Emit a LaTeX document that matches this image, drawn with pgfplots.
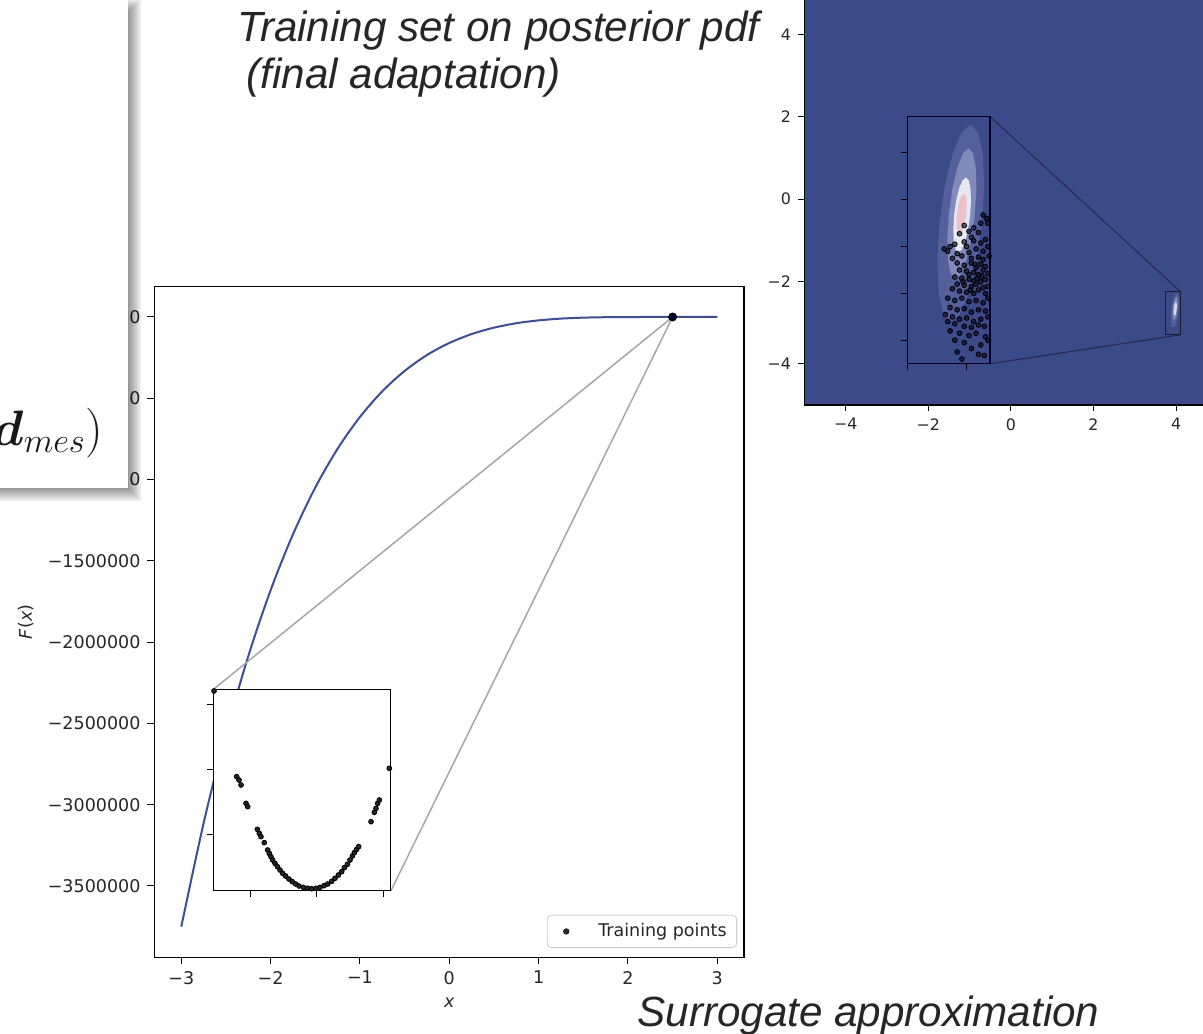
\documentclass[border=0pt]{standalone}
\usepackage{fontspec}
\setmainfont{DejaVu Sans}[ItalicFont={DejaVu Sans Oblique},BoldFont={DejaVu Sans Bold}]
\newfontfamily\arialfont{Liberation Sans}
\usepackage{bm}
\usepackage{pgfplots}
\usepackage{pgfplotstable}
\pgfplotsset{compat=1.18}
\definecolor{heatblue}{HTML}{3D4A89}
\definecolor{curveblue}{HTML}{3F4F93}
\definecolor{lblgray}{HTML}{262626}
\definecolor{hazeA}{HTML}{9AA5D5}
\definecolor{hazeB}{HTML}{C4CCEC}
\definecolor{pinkcore}{HTML}{F0B5BC}

\pgfplotstableread{
x y
4.065 -2.70
4.0743 -2.5393
4.0683 -2.403
4.0482 -2.312
4.017 -2.28
3.9794 -2.312
3.9411 -2.403
3.9079 -2.5393
3.885 -2.70
3.8757 -2.8607
3.8817 -2.997
3.9018 -3.088
3.933 -3.12
3.9706 -3.088
4.0089 -2.997
4.0421 -2.8607
4.065 -2.70
}\blobA
\pgfplotstableread{
x y
4.035 -2.66
4.0415 -2.5528
4.0387 -2.462
4.0269 -2.4013
4.008 -2.38
3.9849 -2.4013
3.9609 -2.462
3.9399 -2.5528
3.925 -2.66
3.9185 -2.7672
3.9213 -2.858
3.9331 -2.9187
3.952 -2.94
3.9751 -2.9187
3.9991 -2.858
4.0201 -2.7672
4.035 -2.66
}\blobB
\pgfplotstableread{
x y
4.015 -2.665
4.0185 -2.6038
4.0163 -2.5519
4.0088 -2.5172
3.997 -2.505
3.9828 -2.5172
3.9683 -2.5519
3.9557 -2.6038
3.947 -2.665
3.9435 -2.7262
3.9457 -2.7781
3.9532 -2.8128
3.965 -2.825
3.9792 -2.8128
3.9937 -2.7781
4.0063 -2.7262
4.015 -2.665
}\blobC
\pgfplotstableread{
x y
3.999 -2.66
4.0008 -2.6275
3.9991 -2.5999
3.9946 -2.5815
3.9875 -2.575
3.9792 -2.5815
3.9709 -2.5999
3.9638 -2.6275
3.959 -2.66
3.9572 -2.6925
3.9589 -2.7201
3.9634 -2.7385
3.9705 -2.745
3.9788 -2.7385
3.9871 -2.7201
3.9942 -2.6925
3.999 -2.66
}\blobD
\pgfplotstableread{
x y
4.07 -2.665
4.085 -2.68
4.06 -2.70
4.03 -2.72
3.99 -2.71
4.01 -2.735
4.05 -2.74
4.09 -2.70
3.97 -2.745
4.02 -2.76
3.93 -2.80
3.92 -2.82
3.905 -2.81
3.95 -2.79
3.99 -2.78
4.03 -2.775
4.06 -2.785
4.08 -2.77
4.00 -2.80
4.04 -2.81
4.07 -2.82
3.96 -2.83
3.98 -2.84
4.01 -2.825
4.05 -2.845
4.09 -2.80
3.94 -2.85
4.02 -2.85
4.07 -2.855
4.095 -2.84
3.96 -2.87
3.99 -2.88
4.02 -2.87
4.04 -2.89
4.06 -2.875
4.08 -2.885
3.97 -2.90
4.00 -2.905
4.03 -2.91
4.05 -2.92
4.07 -2.90
4.09 -2.915
3.95 -2.93
3.98 -2.935
4.01 -2.94
4.03 -2.945
4.06 -2.95
4.08 -2.94
3.96 -2.96
3.99 -2.965
4.02 -2.97
4.04 -2.96
4.07 -2.975
4.09 -2.97
3.94 -2.98
3.97 -2.99
4.00 -2.995
4.03 -3.00
4.05 -2.985
4.08 -3.00
4.01 -2.92
3.985 -2.95
4.015 -2.985
4.045 -2.935
4.065 -2.925
4.035 -2.875
3.92 -3.02
3.95 -3.03
3.98 -3.02
4.01 -3.035
4.04 -3.03
4.07 -3.04
4.09 -3.02
3.93 -3.06
3.96 -3.07
3.99 -3.065
4.02 -3.08
4.05 -3.07
4.08 -3.075
3.91 -3.09
3.94 -3.10
3.97 -3.11
4.00 -3.105
4.03 -3.12
4.06 -3.11
4.09 -3.10
3.95 -3.13
3.99 -3.14
4.02 -3.145
4.05 -3.135
3.92 -3.12
4.075 -3.14
3.93 -3.16
3.97 -3.17
4.01 -3.18
4.04 -3.17
4.08 -3.185
3.95 -3.20
3.99 -3.21
4.06 -3.22
4.09 -3.20
4.02 -3.235
3.96 -3.25
4.05 -3.26
4.075 -3.265
3.98 -3.28
}\trainpts
\pgfplotstableread{
x y
-1.2035 0.889
-1.168 0.837
-1.138 0.760
-1.063 0.475
-1.038 0.424
-0.893 0.072
-0.863 0.010
-0.838 -0.041
-0.788 -0.134
-0.738 -0.248
-0.713 -0.300
-0.688 -0.351
-0.663 -0.403
-0.627 -0.455
-0.592 -0.506
-0.552 -0.558
-0.512 -0.610
-0.467 -0.651
-0.417 -0.698
-0.367 -0.739
-0.316 -0.775
-0.266 -0.806
-0.201 -0.827
-0.136 -0.842
-0.076 -0.848
-0.011 -0.842
0.050 -0.827
0.110 -0.801
0.165 -0.775
0.225 -0.734
0.275 -0.687
0.326 -0.636
0.376 -0.584
0.416 -0.522
0.461 -0.470
0.501 -0.403
0.536 -0.341
0.566 -0.289
0.601 -0.238
0.631 -0.196
0.817 0.191
0.867 0.336
0.892 0.398
0.917 0.475
0.942 0.527
1.092 1.018
-1.544 2.217
}\insetpts

\begin{document}
\begin{tikzpicture}
\fill[white] (0pt,0pt) rectangle (601.5pt,-516.5pt);

% ---------- heat map (posterior pdf) ----------
\begin{axis}[at={(402.2pt,-202.45pt)}, anchor=south west, scale only axis,
  width=206.45pt, height=205.9pt,
  xmin=-5, xmax=5, ymin=-5, ymax=5,
  axis background/.style={fill=heatblue},
  xtick={-4,-2,0,2,4}, xticklabels={−4,−2,0,2,4},
  ytick={-4,-2,0,2,4}, yticklabels={−4,−2,0,2,4},
  tick align=outside, xtick pos=left, ytick pos=left,
  major tick length=3.2pt, tick style={black, line width=0.5pt},
  axis line style={line width=0.6pt},
  ticklabel style={font=\fontsize{7.9}{9}\selectfont, text=lblgray}]
  \addplot[draw=none, fill=hazeA, fill opacity=0.25] table {\blobA};
  \addplot[draw=none, fill=hazeB, fill opacity=0.4] table {\blobB};
  \addplot[draw=none, fill=white, fill opacity=0.8] table {\blobC};
  \addplot[draw=none, fill=pinkcore, fill opacity=0.75] table {\blobD};
  \addplot[draw=black, draw opacity=0.6, line width=0.5pt] coordinates {(3.75,-3.30) (4.10,-3.30) (4.10,-2.245) (3.75,-2.245) (3.75,-3.30)};
  \addplot[draw=black, draw opacity=0.45, line width=0.5pt] coordinates {(-0.5,2) (4.10,-2.245)};
  \addplot[draw=black, draw opacity=0.45, line width=0.5pt] coordinates {(-0.5,-4) (4.10,-3.30)};
\end{axis}

\begin{axis}[at={(453.8pt,-181.85pt)}, anchor=south west, scale only axis,
  width=41.3pt, height=123.55pt,
  xmin=3.75, xmax=4.10, ymin=-3.30, ymax=-2.245,
  axis background/.style={fill=heatblue},
  xtick={3.75,4.0}, xticklabels={},
  ytick={-3.2,-3.0,-2.8,-2.6,-2.4}, yticklabels={},
  tick align=outside, xtick pos=left, ytick pos=left,
  major tick length=3.1pt, tick style={black, line width=0.5pt},
  axis line style={line width=0.75pt, draw=black!85!blue}]
  \addplot[draw=none, fill=hazeA, fill opacity=0.25] table {\blobA};
  \addplot[draw=none, fill=hazeB, fill opacity=0.4] table {\blobB};
  \addplot[draw=none, fill=white, fill opacity=0.8] table {\blobC};
  \addplot[draw=none, fill=pinkcore, fill opacity=0.75] table {\blobD};
  \addplot[only marks, mark=*, mark size=1.2pt, mark options={draw=none, fill=black!90!blue, fill opacity=0.6}] table {\trainpts};
\end{axis}

% ---------- surrogate F(x) ----------
\begin{axis}[at={(77.25pt,-478.55pt)}, anchor=south west, scale only axis,
  width=294.8pt, height=335.3pt,
  xmin=-3.3, xmax=3.3, ymin=-3937500, ymax=187500,
  scaled y ticks=false,
  xtick={-3,-2,-1,0,1,2,3}, xticklabels={−3,−2,−1,0,1,2,3},
  ytick={-3500000,-3000000,-2500000,-2000000,-1500000,-1000000,-500000,0},
  yticklabels={−3500000,−3000000,−2500000,−2000000,−1500000,−1000000,−500000,0},
  tick align=outside, xtick pos=left, ytick pos=left,
  major tick length=3.5pt, tick style={black, line width=0.5pt},
  axis line style={line width=0.6pt},
  ticklabel style={font=\fontsize{8.75}{10}\selectfont, text=lblgray},
  xlabel={\textit{x}}, ylabel={\textit{F}(\textit{x})},
  label style={font=\fontsize{8.75}{10}\selectfont, text=lblgray},
  legend style={at={(0.988,0.0136)}, anchor=south east, draw=black!20, rounded corners=2pt,
    fill=white, font=\fontsize{8.75}{10}\selectfont, text=lblgray, inner xsep=3pt, inner ysep=2pt},
  legend image code/.code={\path[draw=none, fill=none] (0pt,-1pt) rectangle (20.5pt,1pt); \fill[lblgray, draw=none] (6.5pt,0pt) circle (1.6pt);}]
  \addplot[curveblue, line width=1pt, smooth, forget plot] coordinates {
    (-3,-3750000) (-2.75,-3113000) (-2.5,-2561000) (-2.25,-2086000) (-2,-1680000)
    (-1.75,-1337000) (-1.5,-1049000) (-1.25,-810000) (-1,-615000) (-0.75,-457000)
    (-0.5,-332000) (-0.25,-234000) (0,-160000) (0.25,-105000) (0.5,-65600)
    (0.75,-38400) (1,-20700) (1.25,-10000) (1.5,-4100) (1.75,-1300) (2,-260)
    (2.25,-20) (2.5,0) (2.75,0) (3,0)};
  \addplot[color=black!35, line width=0.75pt, forget plot] coordinates {(-2.639,-2290000) (2.5,0)};
  \addplot[color=black!35, line width=0.75pt, forget plot] coordinates {(-0.653,-3528700) (2.5,0)};
  \addplot[only marks, mark=*, mark size=2pt, mark options={draw=none, fill=black!85!blue}] coordinates {(2.5,0)};
  \addlegendentry{Training points}
\end{axis}

\begin{axis}[at={(106.65pt,-445.35pt)}, anchor=south west, scale only axis,
  width=88.7pt, height=100.7pt,
  xmin=-1.555, xmax=1.113, ymin=-0.879, ymax=2.243,
  axis background/.style={fill=white},
  xtick={-1,0,1}, xticklabels={}, ytick={0,1,2}, yticklabels={},
  tick align=outside, xtick pos=left, ytick pos=left,
  major tick length=3.3pt, tick style={black, line width=0.5pt},
  axis line style={line width=0.6pt}]
  \addplot[only marks, mark=*, mark size=1.2pt, mark options={draw=none, fill=lblgray}] table {\insetpts};
\end{axis}

% ---------- slide texts ----------
\node[anchor=base west, font=\arialfont\itshape\fontsize{21.1}{25}\selectfont, text=lblgray, inner sep=0pt] at (118.5pt,-20.5pt) {Training set on posterior pdf};
\node[anchor=base west, font=\arialfont\itshape\fontsize{21.1}{25}\selectfont, text=lblgray, inner sep=0pt] at (123pt,-44pt) {(final adaptation)};
\node[anchor=base west, font=\arialfont\itshape\fontsize{21.1}{25}\selectfont, text=lblgray, inner sep=0pt] at (318.5pt,-513pt) {Surrogate approximation};

% ---------- cropped box with shadow ----------
\foreach \r in {7,5,3,1,-1,-3,-5}{
  \fill[black, opacity=0.07] (-15pt,{-(6-\r)*0.5pt}) rectangle ({(134+\r)*0.5pt},{-(494+\r)*0.5pt});
}
\fill[white] (-15pt,15pt) rectangle (64pt,-244pt);
\node[anchor=base east, font=\fontsize{25}{29}\selectfont, inner sep=0pt, text=black!90] at (52pt,-222.5pt) {$\bm{d}_{mes})$};

\pgfresetboundingbox
\path[use as bounding box] (0pt,0pt) rectangle (601.5pt,-516.5pt);
\end{tikzpicture}
\end{document}
